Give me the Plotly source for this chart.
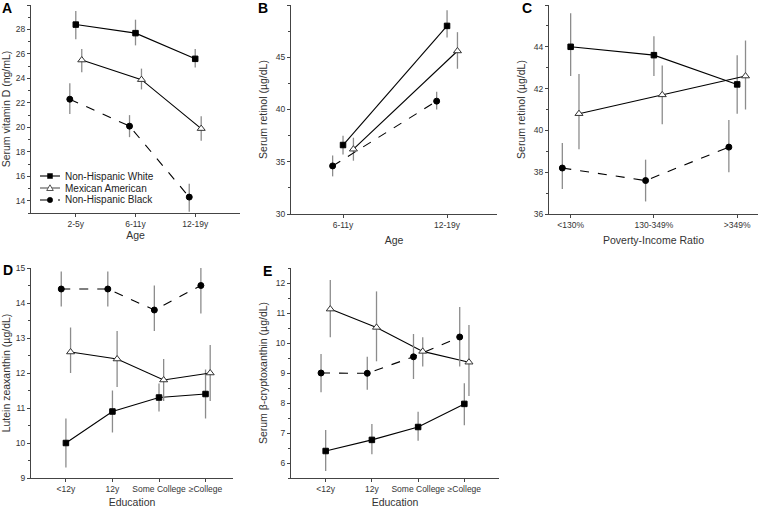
import plotly.graph_objects as go

W, H = 760, 508

# ---------------- data ----------------
series_names = ["Non-Hispanic White", "Mexican American", "Non-Hispanic Black"]

# Panel A: Serum vitamin D by age
a_cats = ["2-5y", "6-11y", "12-19y"]
a_nhw = [28.4, 27.7, 25.6]
a_nhw_lo = [27.2, 26.7, 24.9]
a_nhw_hi = [29.5, 28.8, 26.4]
a_ma = [25.5, 23.9, 19.9]
a_ma_lo = [24.5, 23.1, 18.9]
a_ma_hi = [26.4, 24.8, 20.9]
a_nhb = [22.3, 20.1, 14.3]
a_nhb_lo = [21.1, 19.2, 13.1]
a_nhb_hi = [23.6, 21.0, 15.4]

# Panel B: Serum retinol by age
b_cats = ["6-11y", "12-19y"]
b_nhw = [36.6, 48.0]
b_nhw_lo = [35.7, 46.9]
b_nhw_hi = [37.5, 49.5]
b_ma = [36.2, 45.6]
b_ma_lo = [35.1, 43.9]
b_ma_hi = [37.3, 47.4]
b_nhb = [34.6, 40.8]
b_nhb_lo = [33.6, 40.0]
b_nhb_hi = [35.6, 41.7]

# Panel C: Serum retinol by poverty-income ratio
c_cats = ["<130%", "130-349%", ">349%"]
c_nhw = [44.0, 43.6, 42.2]
c_nhw_lo = [42.6, 42.6, 40.8]
c_nhw_hi = [45.6, 44.5, 43.6]
c_ma = [40.8, 41.7, 42.6]
c_ma_lo = [39.1, 40.3, 41.0]
c_ma_hi = [42.7, 43.1, 44.3]
c_nhb = [38.2, 37.6, 39.2]
c_nhb_lo = [37.2, 36.6, 38.0]
c_nhb_hi = [39.4, 38.6, 40.5]

# Panel D: Lutein zeaxanthin by education
d_cats = ["<12y", "12y", "Some College", "≥College"]
d_nhw = [10.0, 10.9, 11.3, 11.4]
d_nhw_lo = [9.3, 10.3, 10.9, 10.7]
d_nhw_hi = [10.7, 11.5, 11.7, 12.1]
d_ma = [12.6, 12.4, 11.8, 12.0]
d_ma_lo = [12.0, 11.6, 11.2, 11.2]
d_ma_hi = [13.3, 13.2, 12.4, 12.8]
d_nhb = [14.4, 14.4, 13.8, 14.5]
d_nhb_lo = [13.9, 13.9, 13.2, 13.7]
d_nhb_hi = [14.9, 14.9, 14.5, 15.0]

# Panel E: Serum beta-cryptoxanthin by education
e_cats = ["<12y", "12y", "Some College", "≥College"]
e_nhw = [6.4, 6.77, 7.2, 7.97]
e_nhw_lo = [5.73, 6.29, 6.74, 7.26]
e_nhw_hi = [7.1, 7.3, 7.71, 8.66]
e_ma = [11.13, 10.52, 9.72, 9.36]
e_ma_lo = [10.19, 9.39, 9.22, 8.23]
e_ma_hi = [12.1, 11.72, 10.19, 10.6]
e_nhb = [9.0, 8.99, 9.54, 10.2]
e_nhb_lo = [8.36, 8.44, 8.8, 9.22]
e_nhb_hi = [9.63, 9.54, 10.3, 11.2]

# ---------------- styling ----------------
FONT = "Arial, Liberation Sans, Helvetica, sans-serif"
AXC = "#444444"
ERRC = "#8c8c8c"
styles = {
    "Non-Hispanic White": dict(symbol="square", size=5.5, color="black", fill="black", dash="solid", off=0.0),
    "Mexican American": dict(symbol="triangle-up", size=7, color="#333333", fill="white", dash="solid", off=0.1),
    "Non-Hispanic Black": dict(symbol="circle", size=6, color="black", fill="black", dash="dash", off=-0.1),
}

fig = go.Figure()

panels = [
    ("x", "y", a_cats, [(a_nhw, a_nhw_lo, a_nhw_hi), (a_ma, a_ma_lo, a_ma_hi), (a_nhb, a_nhb_lo, a_nhb_hi)]),
    ("x2", "y2", b_cats, [(b_nhw, b_nhw_lo, b_nhw_hi), (b_ma, b_ma_lo, b_ma_hi), (b_nhb, b_nhb_lo, b_nhb_hi)]),
    ("x3", "y3", c_cats, [(c_nhw, c_nhw_lo, c_nhw_hi), (c_ma, c_ma_lo, c_ma_hi), (c_nhb, c_nhb_lo, c_nhb_hi)]),
    ("x4", "y4", d_cats, [(d_nhw, d_nhw_lo, d_nhw_hi), (d_ma, d_ma_lo, d_ma_hi), (d_nhb, d_nhb_lo, d_nhb_hi)]),
    ("x5", "y5", e_cats, [(e_nhw, e_nhw_lo, e_nhw_hi), (e_ma, e_ma_lo, e_ma_hi), (e_nhb, e_nhb_lo, e_nhb_hi)]),
]

for xa, ya, cats, series in panels:
    for name, (vals, lo, hi) in zip(series_names, series):
        st = styles[name]
        xs = [i + st["off"] for i in range(len(cats))]
        fig.add_trace(go.Scatter(
            x=xs, y=vals, xaxis=xa, yaxis=ya, name=name,
            mode="lines+markers", showlegend=False, legendgroup=name,
            line=dict(color="black", width=1.1, dash=st["dash"]),
            marker=dict(symbol=st["symbol"], size=st["size"], color=st["fill"],
                        line=dict(color=st["color"], width=1)),
            error_y=dict(type="data", symmetric=False,
                         array=[h - v for h, v in zip(hi, vals)],
                         arrayminus=[v - l for v, l in zip(vals, lo)],
                         color=ERRC, thickness=1.3, width=0),
            hoverinfo="skip",
        ))


def px_x(p):
    return p / W


def px_y(p):
    return 1 - p / H


def xaxis(x0, x1, anchor, cats, rng, title, standoff):
    return dict(domain=[px_x(x0), px_x(x1)], anchor=anchor, range=rng,
                tickmode="array", tickvals=list(range(len(cats))), ticktext=cats,
                showline=True, linecolor=AXC, linewidth=1, ticks="outside", ticklen=3,
                tickcolor=AXC, showgrid=False, zeroline=False, automargin=False,
                tickfont=dict(size=8.5, color="#333333", family=FONT),
                title=dict(text=title, font=dict(size=10.5, color="#333333", family=FONT),
                           standoff=standoff))


def yaxis(y_top, y_bot, anchor, rng, dtick, minor, title, standoff, tickvals=None):
    d = dict(domain=[px_y(y_bot), px_y(y_top)], anchor=anchor, range=rng,
             showline=True, linecolor=AXC, linewidth=1, ticks="outside", ticklen=3,
             tickcolor=AXC, showgrid=False, zeroline=False, automargin=False,
             minor=dict(ticks="outside", ticklen=2, dtick=minor, tickcolor=AXC, showgrid=False),
             tickfont=dict(size=8.5, color="#333333", family=FONT),
             title=dict(text=title, font=dict(size=10.5, color="#333333", family=FONT),
                        standoff=standoff))
    if tickvals is not None:
        d.update(tickmode="array", tickvals=tickvals)
    else:
        d.update(dtick=dtick, tick0=0)
    return d


fig.update_layout(
    width=W, height=H,
    margin=dict(l=0, r=0, t=0, b=0),
    paper_bgcolor="white", plot_bgcolor="white",
    font=dict(family=FONT, color="#222222"),
    showlegend=False,
    xaxis=xaxis(31, 240, "y", a_cats, [-0.75, 2.75], "Age", 2),
    yaxis=yaxis(5, 213, "x", [13, 30], 2, 1, "Serum vitamin D (ng/mL)", 6),
    xaxis2=xaxis(291, 497, "y2", b_cats, [-0.5, 1.48], "Age", 7),
    yaxis2=yaxis(5, 214, "x2", [30, 50], 5, 2.5, "Serum retinol (µg/dL)", 6),
    xaxis3=xaxis(549, 758, "y3", c_cats, [-0.26, 2.25], "Poverty-Income Ratio", 7),
    yaxis3=yaxis(5, 214, "x3", [36, 46], 2, 1, "Serum retinol (µg/dL)", 6),
    xaxis4=xaxis(31, 233, "y4", d_cats, [-0.75, 3.59], "Education", 11),
    yaxis4=yaxis(268, 478, "x4", [9, 15], 1, 0.5, "Lutein zeaxanthin (µg/dL)", 6),
    xaxis5=xaxis(291, 499, "y5", e_cats, [-0.75, 3.75], "Education", 11),
    yaxis5=yaxis(268, 478, "x5", [5.5, 12.5], 1, 0.5, "Serum β-cryptoxanthin (µg/dL)", 6,
                 tickvals=[6, 7, 8, 9, 10, 11, 12]),
)

# panel letters
letters = [("A", 7, 8), ("B", 263, 8), ("C", 527, 8), ("D", 8, 270), ("E", 267, 271)]
for t, x, y in letters:
    fig.add_annotation(text="<b>%s</b>" % t, xref="paper", yref="paper",
                       x=px_x(x), y=px_y(y), xanchor="center", yanchor="middle",
                       showarrow=False, font=dict(size=14, family=FONT, color="black"))

# compact legend in panel A (drawn as shapes + text, rows 12 px apart)
leg_rows = [176, 188, 200]
for name, yrow in zip(series_names, leg_rows):
    st = styles[name]
    fig.add_shape(type="line", xref="paper", yref="paper",
                  x0=px_x(40), x1=px_x(60), y0=px_y(yrow), y1=px_y(yrow),
                  line=dict(color="black" if name != "Mexican American" else "#555555",
                            width=1.1, dash="dash" if st["dash"] == "dash" else "solid"))
    if st["symbol"] == "square":
        fig.add_shape(type="rect", xref="paper", yref="paper",
                      x0=px_x(47.5), x1=px_x(52.5), y0=px_y(yrow + 2.5), y1=px_y(yrow - 2.5),
                      fillcolor="black", line=dict(color="black", width=0.5))
    elif st["symbol"] == "circle":
        fig.add_shape(type="circle", xref="paper", yref="paper",
                      x0=px_x(47.3), x1=px_x(52.7), y0=px_y(yrow + 2.7), y1=px_y(yrow - 2.7),
                      fillcolor="black", line=dict(color="black", width=0.5))
    else:
        path = "M %f,%f L %f,%f L %f,%f Z" % (px_x(50), px_y(yrow - 3.2),
                                              px_x(53.3), px_y(yrow + 2.5),
                                              px_x(46.7), px_y(yrow + 2.5))
        fig.add_shape(type="path", xref="paper", yref="paper", path=path,
                      fillcolor="white", line=dict(color="#555555", width=1))
    fig.add_annotation(text=name, xref="paper", yref="paper",
                       x=px_x(63), y=px_y(yrow), xanchor="left", yanchor="middle",
                       showarrow=False, font=dict(size=10, family=FONT, color="#222222"))

fig.write_html("out.html", config={"displayModeBar": False},
               post_script="document.body.style.margin='0';document.body.style.overflow='hidden';")
